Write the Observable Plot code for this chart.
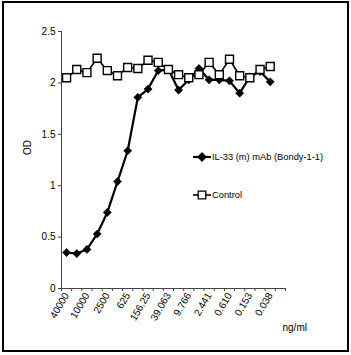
<!DOCTYPE html>
<html><head><meta charset="utf-8">
<script src="https://cdn.jsdelivr.net/npm/d3@7"></script>
<script src="https://cdn.jsdelivr.net/npm/@observablehq/plot@0.6"></script>
<style>body{margin:0;background:#fff} svg{display:block}</style>
</head><body><div id="chart"></div>
<script>
const concentrations = ["40000","20000","10000","5000","2500","1250","625","312.5","156.25","78.125","39.063","19.531","9.766","4.883","2.441","1.221","0.610","0.305","0.153","0.076","0.038"];
const slotCount = 22;
const il33 = [0.35,0.34,0.38,0.53,0.74,1.04,1.34,1.86,1.94,2.12,2.13,1.93,2.03,2.14,2.03,2.03,2.02,1.90,2.06,2.11,2.01];
const control = [2.05,2.13,2.10,2.24,2.12,2.07,2.15,2.14,2.22,2.20,2.13,2.08,2.05,2.08,2.20,2.08,2.23,2.07,2.05,2.13,2.16];
const yTicks = [0,0.5,1,1.5,2,2.5];
const seriesNames = ["IL-33 (m) mAb (Bondy-1-1)", "Control"];
const yLabel = "OD";
const xUnit = "ng/ml";

const rows = concentrations.map((c,i)=>({i, c, il33: il33[i], control: control[i]}));
const font = "'Liberation Sans', Arial, sans-serif";

const plot = Plot.plot({
  width: 351, height: 355,
  marginLeft: 61, marginRight: 66, marginTop: 31, marginBottom: 67,
  style: {fontFamily: font, fontSize: "10px", color: "#000", background: "white"},
  x: {type: "linear", domain: [-0.5, slotCount - 0.5]},
  y: {domain: [0, 2.5]},
  marks: [
    Plot.ruleX([-0.5], {stroke: "#444", strokeWidth: 1}),
    Plot.ruleY([0], {stroke: "#444", strokeWidth: 1}),
    Plot.axisY({ticks: yTicks, tickSize: 3, tickPadding: 3, tickFormat: d => String(d), label: null, stroke: "#444", fill: "#000"}),
    Plot.axisX({ticks: d3.range(slotCount + 1).map(k => k - 0.5), tickSize: 3, tickFormat: () => "", label: null, stroke: "#444"}),
    Plot.axisX({ticks: d3.range(0, concentrations.length, 2), tickSize: 0, tickPadding: 5, tickRotate: -60, tickFormat: i => concentrations[i], label: null, fill: "#000"}),
    Plot.text([yLabel], {frameAnchor: "left", rotate: -90, dx: -34, dy: -5, fontSize: 10, fill: "#000"}),
    Plot.text([xUnit], {frameAnchor: "bottom-right", textAnchor: "start", dx: -3, dy: 42, fontSize: 10, fill: "#000"}),
    Plot.line(rows, {x: "i", y: "il33", stroke: "black", strokeWidth: 2.2}),
    Plot.dot(rows, {x: "i", y: "il33", symbol: "diamond2", r: 3.7, fill: "black", stroke: "black", strokeWidth: 0.5}),
    Plot.line(rows, {x: "i", y: "control", stroke: "black", strokeWidth: 1.6}),
    Plot.dot(rows, {x: "i", y: "control", symbol: "square", r: 4.5, fill: "white", stroke: "black", strokeWidth: 1.4})
  ]
});

const svg = d3.select(plot);
// legend
const legend = svg.append("g").attr("font-family", font).attr("font-size", 9.3).attr("text-anchor", "start");
const items = [
  {name: seriesNames[0], y: 157, sym: d3.symbolDiamond2, size: 40, fill: "black", sw: 2.2},
  {name: seriesNames[1], y: 195, sym: d3.symbolSquare, size: 58, fill: "white", sw: 1.6}
];
items.forEach(it => {
  legend.append("line").attr("x1", 193).attr("x2", 211).attr("y1", it.y).attr("y2", it.y).attr("stroke", "black").attr("stroke-width", it.sw);
  legend.append("path").attr("d", d3.symbol(it.sym, it.size)()).attr("transform", `translate(202,${it.y})`).attr("fill", it.fill).attr("stroke", "black").attr("stroke-width", 1.3);
  legend.append("text").attr("x", 212).attr("y", it.y).attr("dy", "0.35em").attr("fill", "#000").attr("text-anchor", "start").text(it.name);
});
// outer border
svg.append("rect").attr("x", 3).attr("y", 2).attr("width", 345).attr("height", 349).attr("fill", "none").attr("stroke", "black").attr("stroke-width", 2);

document.getElementById("chart").appendChild(plot);
</script>
</body></html>
